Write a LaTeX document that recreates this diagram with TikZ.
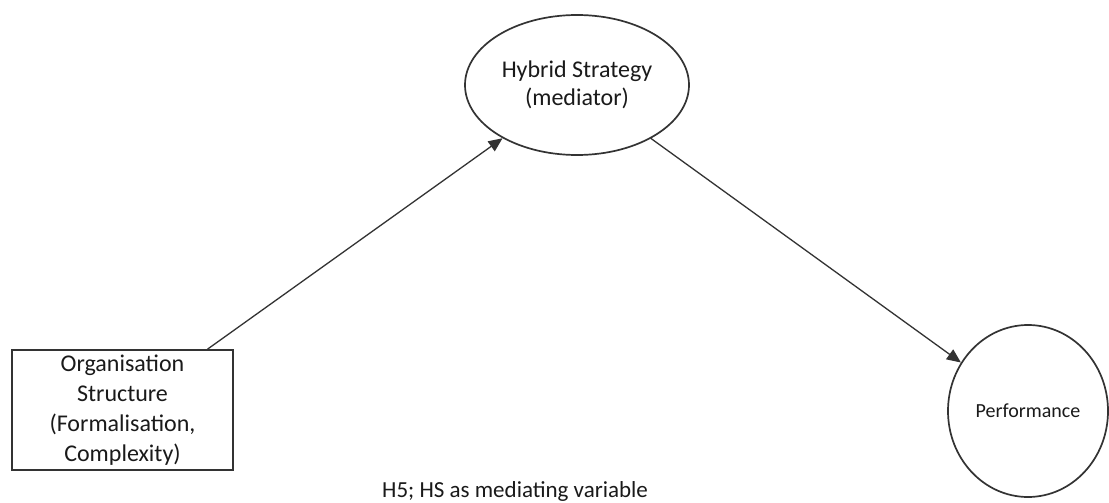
\documentclass[tikz,border=0pt]{standalone}
\usepackage{fontspec}
\setmainfont{Carlito}
\usetikzlibrary{arrows.meta,shapes.geometric}
\definecolor{linecol}{HTML}{333333}
\definecolor{textcol}{HTML}{1A1A1A}
\begin{document}
\begin{tikzpicture}[x=1pt,y=-1pt,
  shapeline/.style={draw=linecol,line width=1.7pt,fill=white,text=textcol,inner sep=0pt},
  arrowline/.style={draw=linecol,line width=1.3pt,-{Triangle[length=14pt,width=12pt]}}]
\useasboundingbox[fill=white] (0,0) rectangle (1109,503);
\node[shapeline,rectangle,minimum width=221pt,minimum height=120pt,align=center,
  font=\fontsize{24}{30}\selectfont] (os) at (122.5,410)
  {Organisation\\Structure\\(Formalisation,\\Complexity)};
\node[shapeline,ellipse,minimum width=224pt,minimum height=140pt,align=center,
  font=\fontsize{24}{28}\selectfont] (hs) at (577,85)
  {Hybrid Strategy\\(mediator)};
\node[shapeline,ellipse,minimum width=160pt,minimum height=172pt,
  font=\fontsize{20}{24}\selectfont] (pf) at (1028,411) {Performance};
\draw[arrowline] (os) -- (hs);
\draw[arrowline] (hs) -- (pf);
\node[anchor=west,text=textcol,font=\fontsize{23}{28}\selectfont,inner sep=0pt] (cap) at (382,491)
  {H5; HS as mediating variable};
\end{tikzpicture}
\end{document}
